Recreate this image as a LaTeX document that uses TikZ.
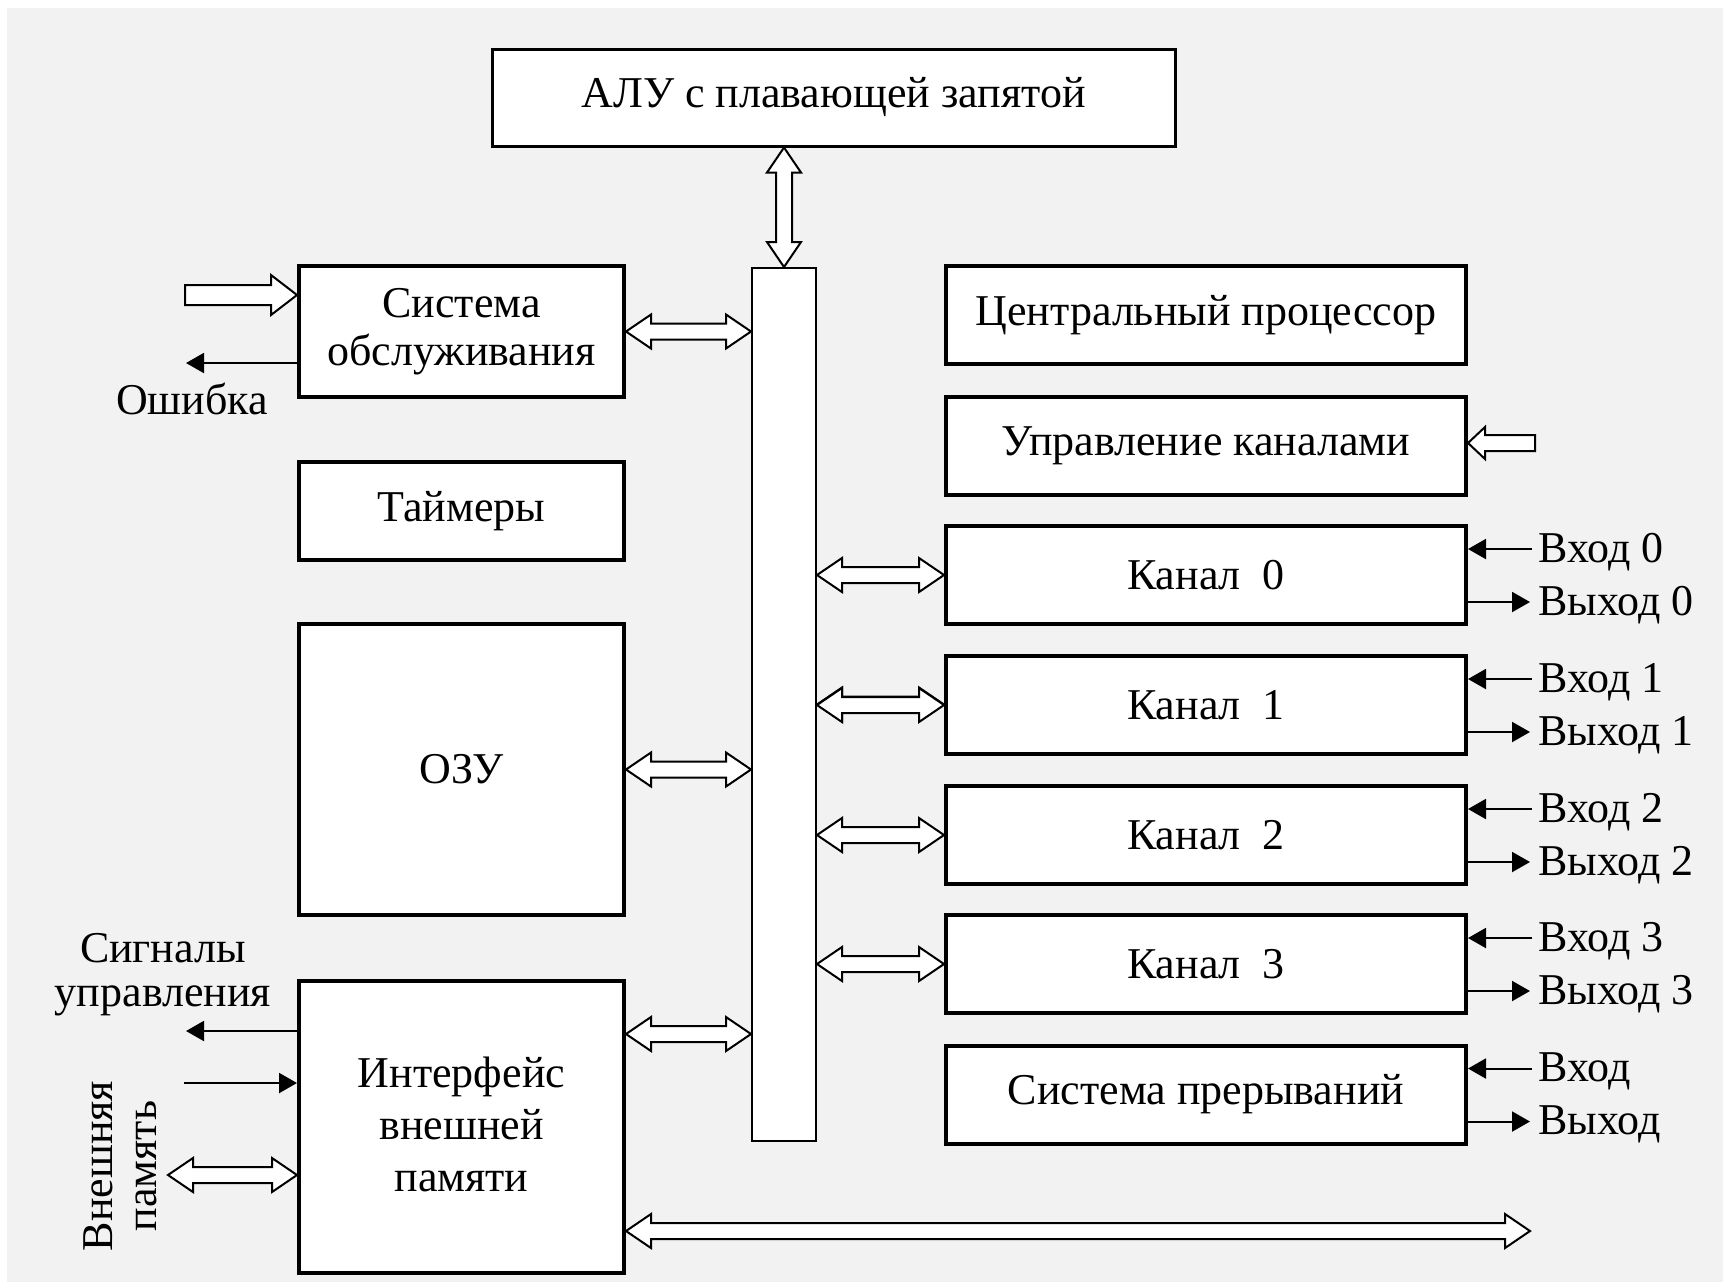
\documentclass[tikz,border=0pt]{standalone}
\usepackage{fontspec}
\setmainfont{Liberation Serif}
\usetikzlibrary{calc,arrows.meta}

% Horizontal hollow double arrow: left tip at #1, right tip at the x of #2
\newcommand\hdbl[2]{%
  \draw[hollow] (#1) -- ++(25,17) -- ++(0,-9) -- ($(#1 -| #2)+(-25,8)$)
    -- ++(0,9) -- (#1 -| #2) -- ++(-25,-17) -- ++(0,9)
    -- ($(#1)+(25,-8)$) -- ++(0,-9) -- cycle;}

\begin{document}
\begin{tikzpicture}[x=0.5pt,y=-0.5pt,
  hollow/.style={draw=black,fill=white,line width=1pt,line join=miter},
  txt/.style={font=\fontsize{22}{26}\selectfont,text=black},
  box/.style={txt,draw=black,fill=white,line width=2pt,inner sep=0pt,align=center},
  lbox/.style={box,minimum width=162.5pt},
  rbox/.style={box,minimum width=260pt,minimum height=49pt},
  sig/.style={line width=1pt,-{Triangle[length=9pt,width=10pt]}},
  lbl/.style={txt,inner sep=0pt}]

% page and background
\useasboundingbox (0,0) rectangle (1723,1282);
\fill[white] (0,0) rectangle (1723,1282);
\fill[black!5] (7,8) rectangle (1723,1282);

% internal bus
\node[draw=black,fill=white,line width=1pt,minimum width=32pt,minimum height=436.5pt,inner sep=0pt] (bus) at (784,704.5) {};

% blocks
\node[box,line width=1.5pt,minimum width=341.5pt,minimum height=48.5pt] (alu) at (833.5,97.5) {АЛУ с плавающей запятой};
\node[lbox,minimum height=65.5pt,font=\fontsize{22}{24}\selectfont] (sys) at (461.5,331.5) {Система\\обслуживания};
\node[lbox,minimum height=49pt] (tim) at (461.5,511) {Таймеры};
\node[lbox,minimum height=145.5pt] (ram) at (461.5,769.5) {ОЗУ};
\node[lbox,minimum height=146pt,font=\fontsize{22}{26}\selectfont] (ext) at (461.5,1127) {};
\node[txt,align=center,inner sep=0pt] (extT) at (461.5,1124) {Интерфейс\\внешней\\памяти};
\node[rbox] (cpu) at (1206,315) {Центральный процессор};
\node[rbox] (chc) at (1206,446) {Управление каналами};
\node[rbox] (k0) at (1206,575) {Канал\ \ 0};
\node[rbox] (k1) at (1206,705) {Канал\ \ 1};
\node[rbox] (k2) at (1206,835) {Канал\ \ 2};
\node[rbox] (k3) at (1206,964) {Канал\ \ 3};
\node[rbox] (irq) at (1206,1094.5) {Система прерываний};

% ALU <-> bus
\coordinate (aluB) at (bus.north |- alu.south);
\draw[hollow] (aluB) -- ++(-17,25) -- ++(9,0) -- ($(bus.north)+(-8,-25)$)
  -- ++(-9,0) -- (bus.north) -- ++(17,-25) -- ++(-9,0)
  -- ($(aluB)+(8,25)$) -- ++(9,0) -- cycle;

% blocks <-> bus
\hdbl{sys.east}{bus.west}
\hdbl{ram.east}{bus.west}
\coordinate (extB) at ($(ext.north east)+(0,55)$);
\hdbl{extB}{bus.west}
\hdbl{bus.east}{cpu.west}
\hdbl{bus.east |- k0.west}{k0.west}
\hdbl{bus.east |- k1.west}{k1.west}
\hdbl{bus.east |- k2.west}{k2.west}
\hdbl{bus.east |- k3.west}{k3.west}

% external memory bus
\coordinate (extL) at ($(ext.north east)+(0,252)$);
\coordinate (busEnd) at (1530,0);
\hdbl{extL}{busEnd}

% external memory <-> interface
\coordinate (memL) at ($(ext.north west)+(-129,196)$);
\hdbl{memL}{ext.west}

% service input
\coordinate (svcIn) at ($(sys.north west)+(-112,31)$);
\draw[hollow] ($(svcIn)+(0,-10)$) -- ($(svcIn -| sys.west)+(-26,-10)$) -- ++(0,-10)
  -- ($(svcIn -| sys.west)$) -- ++(-26,20) -- ++(0,-10) -- ($(svcIn)+(0,10)$) -- cycle;

% channel control input
\coordinate (chcIn) at ($(chc.east)+(67,-3)$);
\draw[hollow] ($(chcIn)+(0,-8)$) -- ($(chcIn -| chc.east)+(17,-8)$) -- ++(0,-8)
  -- (chcIn -| chc.east) -- ++(17,16) -- ++(0,-8) -- ($(chcIn)+(0,8)$) -- cycle;

% error output
\coordinate (errOut) at ($(sys.north west)+(-111,99)$);
\draw[sig] (errOut -| sys.west) -- (errOut);
\node[lbl] (errL) at (192,399) {Ошибка};

% interface control signals
\coordinate (ctlOut) at ($(ext.north west)+(-111,52)$);
\draw[sig] (ctlOut -| ext.west) -- (ctlOut);
\coordinate (ctlIn) at ($(ext.north west)+(-113,104)$);
\draw[sig] (ctlIn) -- (ctlIn -| ext.west);
\node[lbl,align=center,font=\fontsize{22}{22}\selectfont] (ctlL) at (163,975) {Сигналы\\управления};
\node[lbl,rotate=90,align=center,font=\fontsize{22}{22}\selectfont] (memLbl) at (120,1166) {Внешняя\\память};

% channel inputs and outputs
\foreach \k/\n in {k0/ 0,k1/ 1,k2/ 2,k3/ 3,irq/}{
  \coordinate (\k in) at ($(\k.north east)+(64,25)$);
  \coordinate (\k out) at ($(\k.north east)+(62,78)$);
  \draw[sig] (\k in) -- (\k in -| \k.east);
  \draw[sig] (\k out -| \k.east) -- (\k out);
  \node[lbl,anchor=west] (\k inL) at ($(\k in)+(6,3)$) {Вход\n};
  \node[lbl,anchor=west] (\k outL) at ($(\k out)+(8,3)$) {Выход\n};
}
\end{tikzpicture}
\end{document}
